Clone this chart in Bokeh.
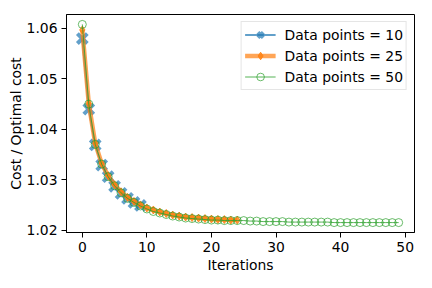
from bokeh.plotting import figure
from bokeh.models import Range1d, FixedTicker, Legend
from bokeh.embed import file_html
from bokeh.resources import INLINE

# Data
iters_10 = list(range(10))
cost_10 = [1.0580, 1.0440, 1.0369, 1.0329, 1.0306, 1.0287, 1.0273, 1.0263, 1.0255, 1.0249]

iters_25 = list(range(25))
cost_25 = [1.0597, 1.0451, 1.0372, 1.0332, 1.0308, 1.0290, 1.0276, 1.0265, 1.0257, 1.0250,
           1.0244, 1.0240, 1.0236, 1.0233, 1.0230, 1.0228, 1.0226, 1.0225, 1.0224, 1.0223,
           1.0222, 1.0221, 1.0221, 1.0220, 1.0220]

iters_50 = list(range(50))
cost_50 = [1.0608, 1.0450, 1.0370, 1.0331, 1.0306, 1.0288, 1.0274, 1.0263, 1.0255, 1.0248,
           1.0242, 1.0237, 1.0234, 1.0231, 1.0228, 1.0226, 1.0224, 1.0223, 1.0222, 1.0221,
           1.0220, 1.0220, 1.0219, 1.0219, 1.0219, 1.0219, 1.0218, 1.0218, 1.0217, 1.0217,
           1.0217, 1.0217, 1.0216, 1.0216, 1.0216, 1.0216, 1.0216, 1.0216, 1.0216, 1.0215,
           1.0215, 1.0215, 1.0215, 1.0215, 1.0215, 1.0215, 1.0215, 1.0215, 1.0215, 1.0215]

labels = ["Data points = 10", "Data points = 25", "Data points = 50"]
x_ticks = [0, 10, 20, 30, 40, 50]
y_ticks = [1.02, 1.03, 1.04, 1.05, 1.06]

# ranges with 5% margins like matplotlib
all_x = iters_10 + iters_25 + iters_50
all_y = cost_10 + cost_25 + cost_50
xmin, xmax = min(all_x), max(all_x)
ymin, ymax = min(all_y), max(all_y)
dx = (xmax - xmin) * 0.05
dy = (ymax - ymin) * 0.05

FONT = "DejaVu Sans"
FS = "13.9px"

p = figure(width=424, height=280, output_backend="svg", toolbar_location=None,
           x_range=Range1d(xmin - dx, xmax + dx), y_range=Range1d(ymin - dy, ymax + dy),
           min_border_left=66, min_border_right=10, min_border_top=14, min_border_bottom=48)
p.xgrid.visible = False
p.ygrid.visible = False
p.outline_line_color = "black"
p.outline_line_alpha = 1
p.outline_line_width = 1
p.background_fill_color = "white"
p.border_fill_color = "white"

blue = "#1f77b4"
orange = "#ff7f0e"
green = "#2ca02c"

l1 = p.line(iters_10, cost_10, line_color=blue, line_width=2, line_alpha=0.7)
s1 = p.scatter(iters_10, cost_10, marker="x", size=14, line_color=blue, line_width=4, line_alpha=0.7)

l2 = p.line(iters_25, cost_25, line_color=orange, line_width=4.5, line_alpha=0.7)
s2 = p.scatter(iters_25, cost_25, marker="diamond", size=8, fill_color=orange, line_color=orange,
               fill_alpha=0.8, line_alpha=0.8)

l3 = p.line(iters_50, cost_50, line_color=green, line_width=1, line_alpha=0.8)
s3 = p.scatter(iters_50, cost_50, marker="circle", size=8, fill_color=None, line_color=green,
               line_width=1, line_alpha=0.7)

legend = Legend(items=[(labels[0], [l1, s1]), (labels[1], [l2, s2]), (labels[2], [l3, s3])],
                location="top_right")
legend.margin = 7
legend.padding = 3
legend.spacing = 2
legend.label_height = 19
legend.glyph_height = 19
legend.glyph_width = 31
legend.label_standoff = 9
legend.label_text_font = FONT
legend.label_text_font_size = FS
legend.label_text_color = "black"
legend.border_line_color = "#cccccc"
legend.border_line_width = 1
legend.background_fill_alpha = 0.8
p.add_layout(legend, "center")

for ax in (p.xaxis[0], p.yaxis[0]):
    ax.major_label_text_font = FONT
    ax.major_label_text_font_size = FS
    ax.major_label_text_color = "black"
    ax.axis_label_text_font = FONT
    ax.axis_label_text_font_size = FS
    ax.axis_label_text_font_style = "normal"
    ax.axis_label_text_color = "black"
    ax.axis_line_color = "black"
    ax.major_tick_line_color = "black"
    ax.major_tick_in = 0
    ax.major_tick_out = 5
    ax.minor_tick_line_color = None

p.xaxis.major_label_standoff = 4
p.xaxis.axis_label_standoff = 2
p.yaxis.major_label_standoff = 4
p.yaxis.axis_label_standoff = 0

p.xaxis.ticker = FixedTicker(ticks=x_ticks)
p.yaxis.ticker = FixedTicker(ticks=y_ticks)
p.xaxis.axis_label = "Iterations"
p.yaxis.axis_label = "Cost / Optimal cost"

open("out.html", "w").write(file_html(p, INLINE))
